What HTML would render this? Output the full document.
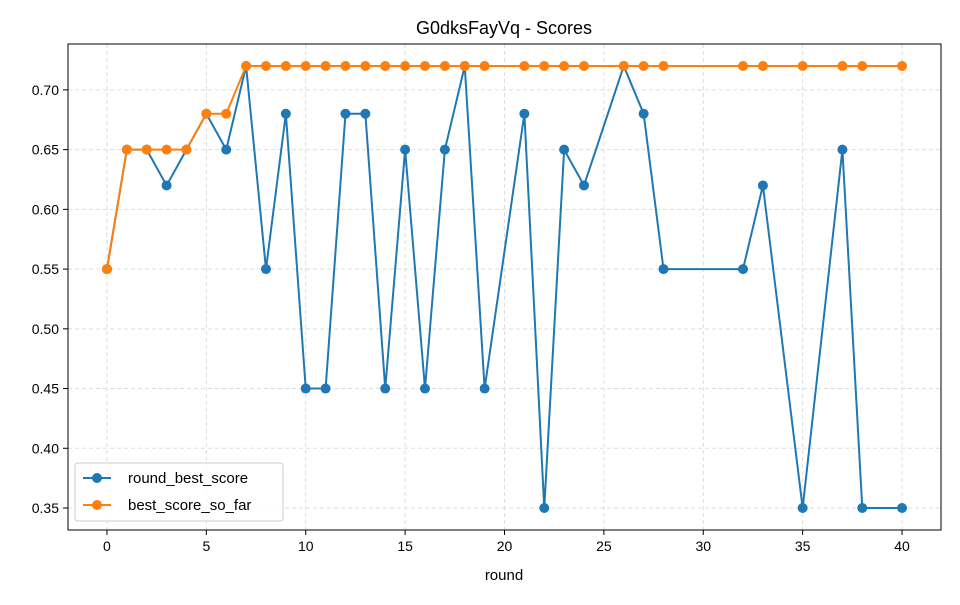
<!DOCTYPE html>
<html><head><meta charset="utf-8"><style>
body{margin:0;background:#fff;}
text{font-family:"Liberation Sans","DejaVu Sans",sans-serif;fill:#000;}
</style></head><body>
<svg id="chart" width="960" height="600" xmlns="http://www.w3.org/2000/svg">
<text x="504" y="34" font-size="18" text-anchor="middle">G0dksFayVq - Scores</text>
<g id="grid"></g><g id="axes"></g><g id="series"></g>
<rect x="68" y="44" width="873" height="486" fill="none" stroke="#000" stroke-width="1"/>
<text x="504" y="580" font-size="15" text-anchor="middle">round</text>
<g>
<rect x="75" y="463" width="208" height="58" rx="3" fill="#fff" fill-opacity="0.8" stroke="#ccc"/>
<g>
<line x1="83" y1="478" x2="111" y2="478" stroke="#1f77b4" stroke-width="2"/><circle cx="97" cy="478" r="5" fill="#1f77b4"/>
<text x="128" y="483" font-size="15">round_best_score</text></g>
<g>
<line x1="83" y1="505" x2="111" y2="505" stroke="#ff7f0e" stroke-width="2"/><circle cx="97" cy="505" r="5" fill="#ff7f0e"/>
<text x="128" y="510" font-size="15">best_score_so_far</text></g>
</g>
</svg>
<script>
const rounds=[0,1,2,3,4,5,6,7,8,9,10,11,12,13,14,15,16,17,18,19,21,22,23,24,26,27,28,32,33,35,37,38,40];
const roundBest=[0.55,0.65,0.65,0.62,0.65,0.68,0.65,0.72,0.55,0.68,0.45,0.45,0.68,0.68,0.45,0.65,0.45,0.65,0.72,0.45,0.68,0.35,0.65,0.62,0.72,0.68,0.55,0.55,0.62,0.35,0.65,0.35,0.35];
const bestSoFar=[0.55,0.65,0.65,0.65,0.65,0.68,0.68,0.72,0.72,0.72,0.72,0.72,0.72,0.72,0.72,0.72,0.72,0.72,0.72,0.72,0.72,0.72,0.72,0.72,0.72,0.72,0.72,0.72,0.72,0.72,0.72,0.72,0.72];
const xTicks=[0,5,10,15,20,25,30,35,40];
const yTicks=[0.35,0.40,0.45,0.50,0.55,0.60,0.65,0.70];
const NS="http://www.w3.org/2000/svg";
const X0=68,X1=941,Y0=530,Y1=44,xmin=-1.96,xmax=41.96,ymin=0.3316,ymax=0.7384;
const sx=v=>X0+(v-xmin)/(xmax-xmin)*(X1-X0);
const sy=v=>Y0-(v-ymin)/(ymax-ymin)*(Y0-Y1);
function mk(tag,attrs,parent){const e=document.createElementNS(NS,tag);for(const k in attrs)e.setAttribute(k,attrs[k]);parent.appendChild(e);return e;}
const grid=document.getElementById('grid'),axes=document.getElementById('axes'),ser=document.getElementById('series');
xTicks.forEach(t=>{const x=sx(t);
 const g=mk('line',{x1:x,x2:x,y1:Y1,y2:Y0,stroke:'#ddd','stroke-dasharray':'4,3'},grid);
 
 
 mk('line',{x1:x,x2:x,y1:Y0,y2:Y0+5,stroke:'#000'},axes);
 const l=mk('text',{x:x,y:Y0+21,'font-size':14,'text-anchor':'middle'},axes);l.textContent=t;
 
 
});
yTicks.forEach(t=>{const y=sy(t);
 const g=mk('line',{x1:X0,x2:X1,y1:y,y2:y,stroke:'#ddd','stroke-dasharray':'4,3'},grid);
 
 
 mk('line',{x1:X0-5,x2:X0,y1:y,y2:y,stroke:'#000'},axes);
 const l=mk('text',{x:X0-9,y:y+5,'font-size':14,'text-anchor':'end'},axes);l.textContent=t.toFixed(2);
 
 
});
function draw(vals,color,name){
 const pts=rounds.map((r,i)=>sx(r)+','+sy(vals[i])).join(' ');
 const pl=mk('polyline',{points:pts,fill:'none',stroke:color,'stroke-width':2},ser);
 
 
 rounds.forEach((r,i)=>{const c=mk('circle',{cx:sx(r),cy:sy(vals[i]),r:5,fill:color},ser);
  
  });
}
draw(roundBest,'#1f77b4','round-best-score');
draw(bestSoFar,'#ff7f0e','best-score-so-far');
</script>
</body></html>
